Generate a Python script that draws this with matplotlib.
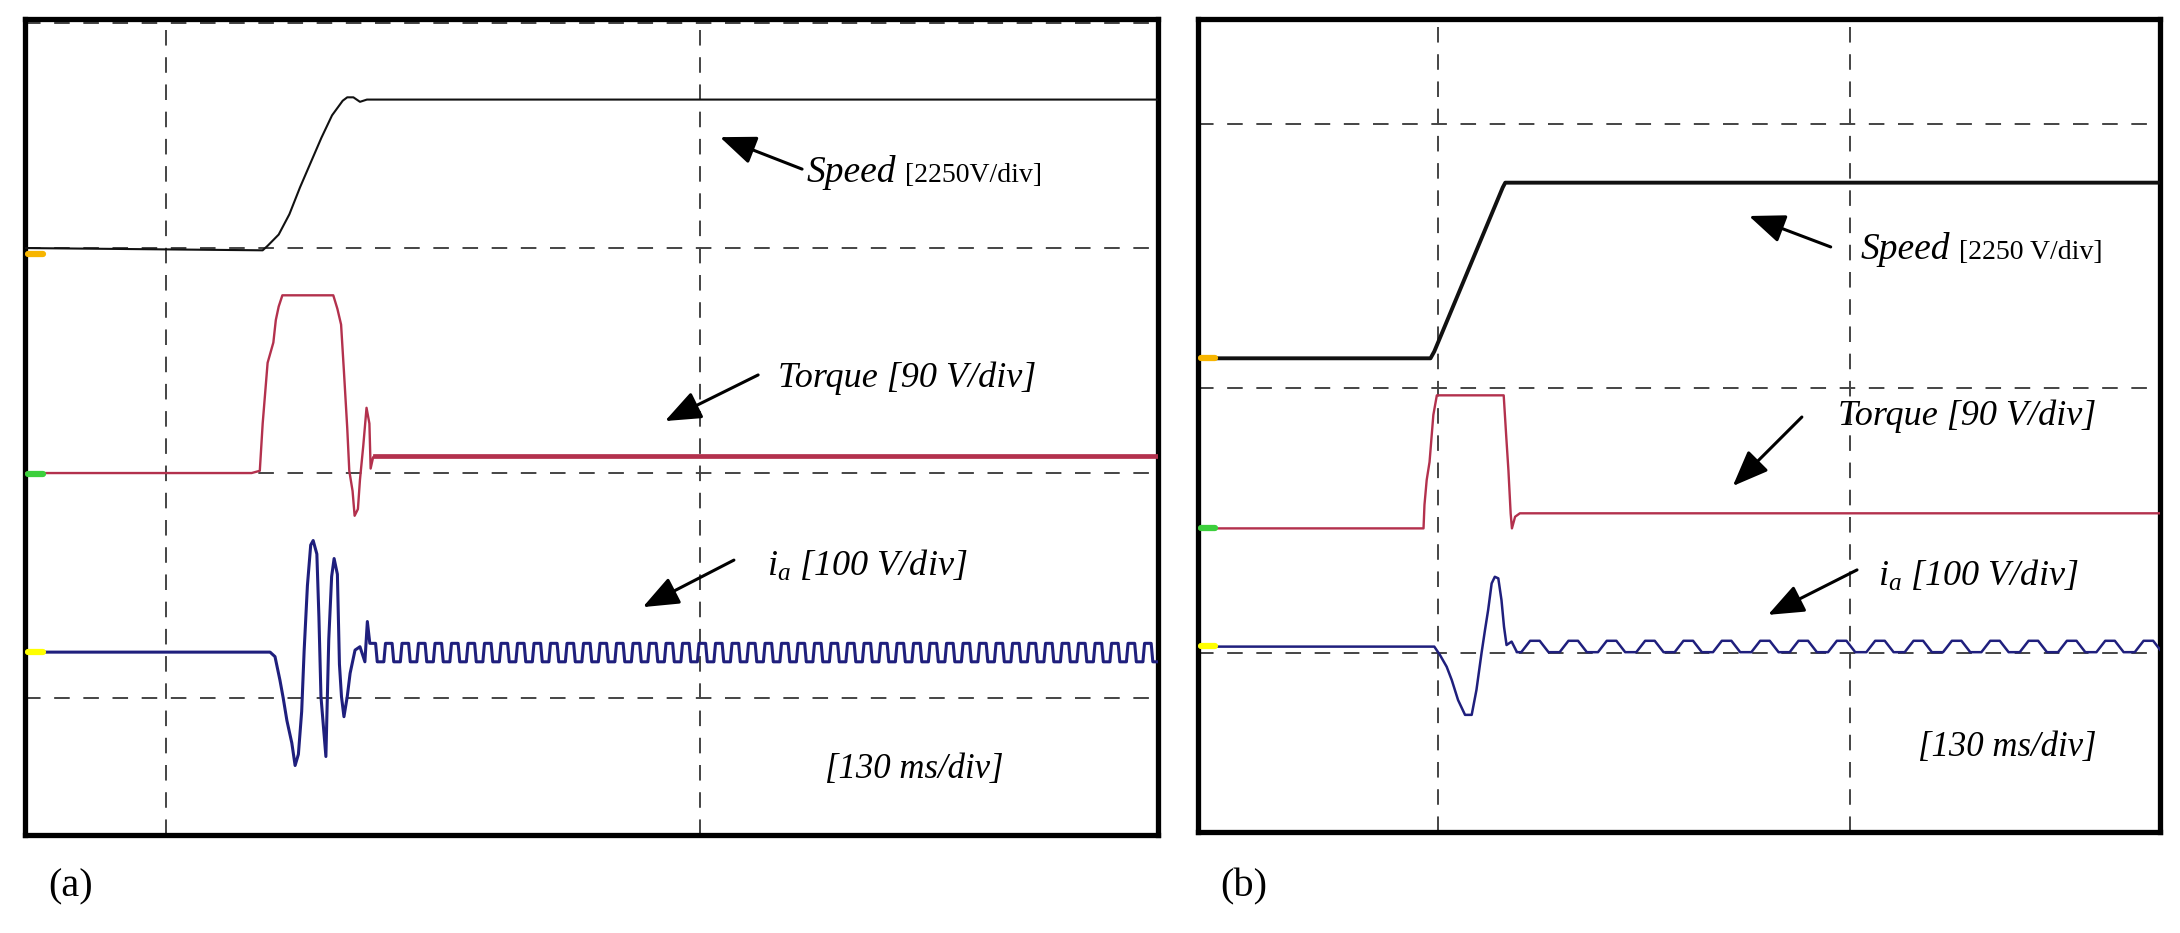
import numpy as np
import matplotlib
matplotlib.use('Agg')
import matplotlib.pyplot as plt

plt.rc('font', family='Liberation Serif')
plt.rc('mathtext', fontset='custom', rm='Liberation Serif', it='Liberation Serif:italic')

# ---- panel (a) data: time [ms], level [div] ----
speed_a_t = [0, 57.9, 59.1, 61.8, 64.4, 67.0, 69.6, 72.2, 74.8, 77.4, 78.5, 80.0, 81.6, 83.3, 276]
speed_a_y = [3.0, 2.99, 3.01, 3.06, 3.15, 3.27, 3.38, 3.49, 3.59, 3.655, 3.67, 3.67, 3.65, 3.66, 3.66]

torque_a_t = [0, 55.2, 57.2, 57.9, 59.1, 60.5, 61.1, 61.8, 62.7, 75.1, 76.1, 77.0, 77.7, 78.5, 79.0,
              79.8, 80.3, 81.1, 81.6, 82.4, 83.2, 83.9, 84.2, 84.8, 85.2, 276]
torque_a_y = [2.0, 2.0, 2.01, 2.22, 2.49, 2.58, 2.68, 2.74, 2.79, 2.79, 2.73, 2.66, 2.45, 2.20, 2.01,
              1.92, 1.81, 1.84, 1.97, 2.12, 2.29, 2.22, 2.02, 2.07, 2.075, 2.075]

ia_a_t = [0, 59.7, 60.9, 62.1, 62.9, 63.8, 65.0, 65.8, 66.6, 67.4, 68.0, 68.8, 69.6, 70.2, 71.1, 71.6,
          72.1, 72.7, 73.3, 74.0, 74.7, 75.3, 76.1, 76.6, 77.1, 77.7, 78.5, 79.2, 80.4, 81.6, 82.8,
          83.4, 84.0]
ia_a_y = [1.204, 1.204, 1.184, 1.08, 1.0, 0.90, 0.80, 0.70, 0.75, 0.94, 1.21, 1.50, 1.68, 1.70, 1.64,
          1.36, 1.006, 0.87, 0.74, 1.26, 1.54, 1.62, 1.55, 1.15, 1.006, 0.917, 1.006, 1.11, 1.213,
          1.228, 1.161, 1.34, 1.243]
# steady-state ripple of i_a: one cycle
ia_a_cyc_ph = [0.0, 0.35, 0.45, 0.85, 0.95]
ia_a_cyc_y = [1.243, 1.243, 1.161, 1.161, 1.243]
ia_a_period = 4.02
ia_a_ncyc = 48

grid_t_a = [34.3, 164.4]
grid_y_a = [1, 2, 3, 4]
mark_y_a = [2.973, 1.996, 1.204]

# ---- panel (b) data ----
speed_b_t = [0, 73.4, 74.6, 96.2, 97.0, 303.6]
speed_b_y = [2.114, 2.114, 2.14, 2.76, 2.778, 2.778]

torque_b_t = [0, 71.2, 71.5, 72.2, 73.1, 74.3, 75.4, 96.5, 97.3, 98.0, 98.7, 99.1, 100.1, 101.6, 303.6]
torque_b_y = [1.471, 1.471, 1.56, 1.654, 1.722, 1.90, 1.974, 1.974, 1.819, 1.689, 1.527, 1.471,
              1.515, 1.528, 1.528]

ia_b_t = [0, 74.6, 76.4, 78.5, 80.1, 82.1, 84.3, 86.4, 87.9, 89.5, 90.6, 91.6, 92.7, 93.7, 94.8,
          95.8, 96.6, 97.4, 99.0, 100.6]
ia_b_y = [1.024, 1.024, 0.992, 0.948, 0.898, 0.822, 0.766, 0.766, 0.860, 0.999, 1.087, 1.163, 1.263,
          1.288, 1.282, 1.200, 1.099, 1.030, 1.043, 1.005]
ia_b_cyc_ph = [0.0, 0.12, 0.35, 0.6, 0.83]
ia_b_cyc_y = [1.003, 1.003, 1.046, 1.046, 1.003]
ia_b_period = 12.1
ia_b_ncyc = 17

grid_t_b = [75.7, 205.7]
grid_y_b = [1, 2, 3]
mark_y_b = [2.114, 1.473, 1.027]

mark_colors = ['#f7b500', '#3ccf3c', '#ffff00']
c_speed = '#111111'
c_torque = '#b3314d'
c_ia = '#1f1f7d'


def ripple(t0, ph, vals, period, n):
  tt = (np.arange(n)[:, None] + np.array(ph)[None, :]) * period + t0
  vv = np.tile(vals, (n, 1))
  return tt.ravel(), vv.ravel()


def scope_axes(rect, xlim, ylim, gt, gy):
  ax = fig.add_axes(rect)
  ax.set_xlim(xlim)
  ax.set_ylim(ylim)
  ax.set_xticks([])
  ax.set_yticks([])
  for s in ax.spines.values():
    s.set_linewidth(3.8)
    s.set_color('black')
  for x in gt:
    ax.axvline(x, color='#444444', lw=1.4, dashes=(8, 6), zorder=1)
  for y in gy:
    ax.axhline(y, color='#444444', lw=1.4, dashes=(8, 7), zorder=1)
  return ax


def arrow(ax, tail, head):
  ax.annotate('', xy=head, xytext=tail,
              arrowprops=dict(arrowstyle='-|>,head_length=0.55,head_width=0.22', lw=2.2,
                              color='black', mutation_scale=40, shrinkA=0, shrinkB=0))


fig = plt.figure(figsize=(21.8, 9.33), dpi=100)

# ===== (a) =====
ax = scope_axes([0.01147, 0.1050, 0.5197, 0.8746], (0, 276), (0.391, 4.018), grid_t_a, grid_y_a)
ax.plot(speed_a_t, speed_a_y, color=c_speed, lw=1.5, zorder=3)
ax.plot(torque_a_t, torque_a_y, color=c_torque, lw=1.7, zorder=3)
ax.plot(torque_a_t[-2:], torque_a_y[-2:], color=c_torque, lw=3.4, zorder=3)
rt, ry = ripple(ia_a_t[-1], ia_a_cyc_ph, ia_a_cyc_y, ia_a_period, ia_a_ncyc)
ax.plot(np.r_[ia_a_t, rt], np.r_[ia_a_y, ry], color=c_ia, lw=2.2, zorder=3)
for y, c in zip(mark_y_a, mark_colors):
  ax.plot([0.8, 4.5], [y, y], color=c, lw=4.5, solid_capstyle='round', zorder=4)

ax.text(190.3, 3.293, 'Speed', style='italic', fontsize=27, va='baseline')
ax.text(214.4, 3.293, '[2250V/div]', fontsize=20, va='baseline')
ax.text(183.4, 2.382, 'Torque [90 V/div]', style='italic', fontsize=26, va='baseline')
ax.text(180.8, 1.542, r'$i_a$ [100 V/div]', style='italic', fontsize=26, va='baseline')
ax.text(194.9, 0.645, '[130 ms/div]', style='italic', fontsize=25, va='baseline')
arrow(ax, (189.3, 3.351), (169.3, 3.493))
arrow(ax, (178.6, 2.436), (155.9, 2.231))
arrow(ax, (172.7, 1.613), (150.5, 1.404))

# ===== (b) =====
ax = scope_axes([0.5495, 0.1083, 0.4413, 0.8714], (0, 303.6), (0.3233, 3.397), grid_t_b, grid_y_b)
ax.plot(speed_b_t, speed_b_y, color=c_speed, lw=2.8, zorder=3)
ax.plot(torque_b_t, torque_b_y, color=c_torque, lw=1.7, zorder=3)
rt, ry = ripple(ia_b_t[-1], ia_b_cyc_ph, ia_b_cyc_y, ia_b_period, ia_b_ncyc)
ax.plot(np.r_[ia_b_t, rt], np.r_[ia_b_y, ry], color=c_ia, lw=1.8, zorder=3)
for y, c in zip(mark_y_b, mark_colors):
  ax.plot([0.9, 5.5], [y, y], color=c, lw=4.5, solid_capstyle='round', zorder=4)

ax.text(209.2, 2.490, 'Speed', style='italic', fontsize=27, va='baseline')
ax.text(240.1, 2.490, '[2250 V/div]', fontsize=20, va='baseline')
ax.text(202.0, 1.860, 'Torque [90 V/div]', style='italic', fontsize=26, va='baseline')
ax.text(214.6, 1.253, r'$i_a$ [100 V/div]', style='italic', fontsize=26, va='baseline')
ax.text(227.2, 0.611, '[130 ms/div]', style='italic', fontsize=25, va='baseline')
arrow(ax, (199.7, 2.535), (173.9, 2.652))
arrow(ax, (190.6, 1.892), (168.8, 1.631))
arrow(ax, (208.0, 1.314), (179.9, 1.144))

fig.text(0.022, 0.0493, '(a)', fontsize=29, va='center')
fig.text(0.5596, 0.0493, '(b)', fontsize=29, va='center')

fig.savefig('out.png', dpi=100)
